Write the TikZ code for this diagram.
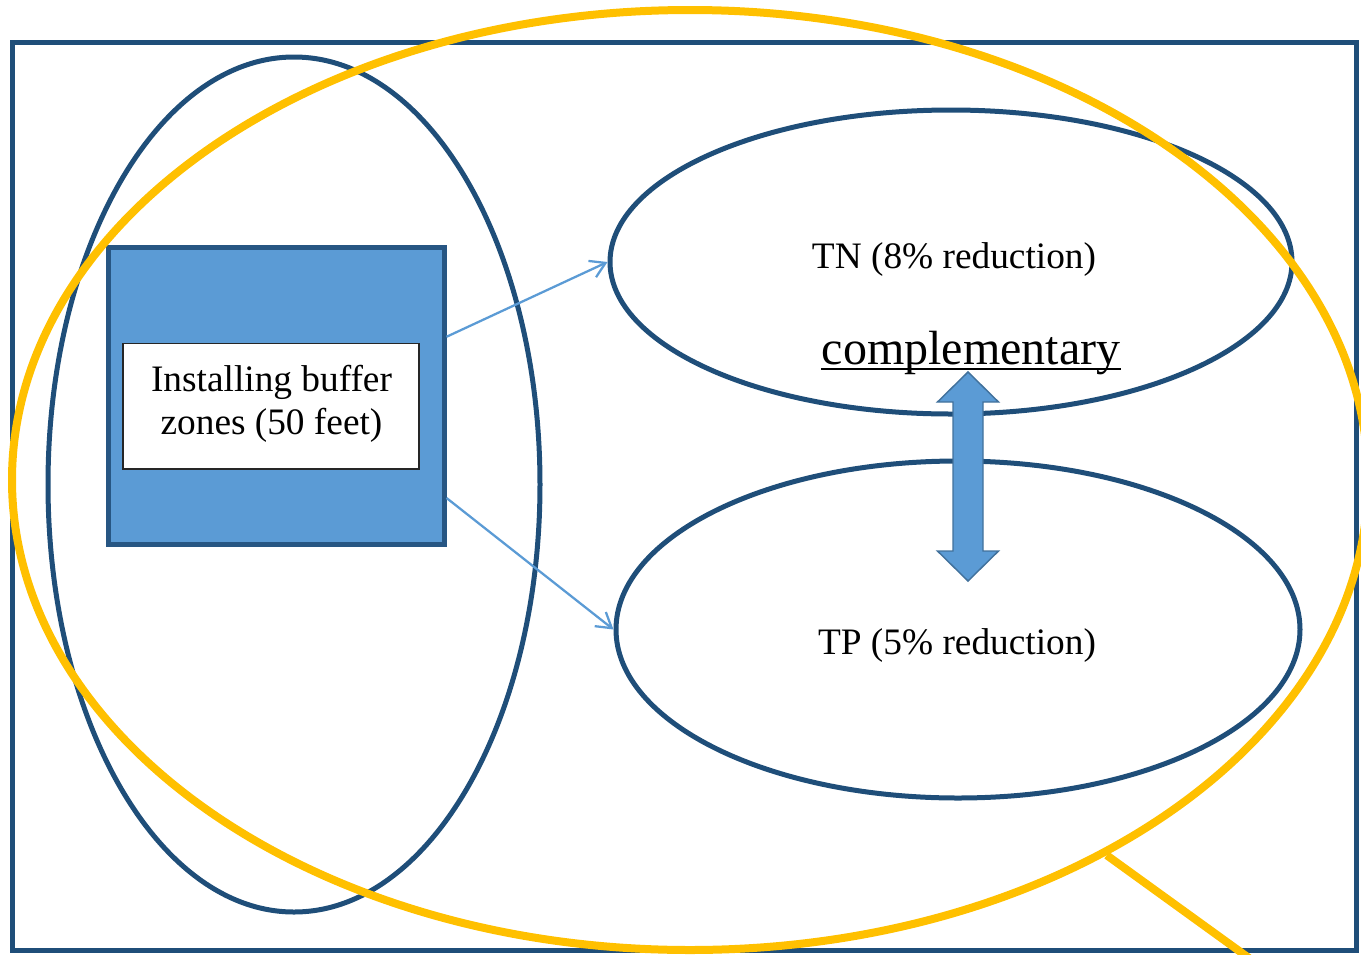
\documentclass[tikz,border=0pt]{standalone}
\usepackage{fontspec}
\setmainfont{Liberation Serif}
\usetikzlibrary{shapes.geometric,arrows.meta}
\definecolor{dblue}{HTML}{1F4E79}
\definecolor{lblue}{HTML}{5B9BD5}
\definecolor{aedge}{HTML}{41719C}
\definecolor{gold}{HTML}{FFC000}
\definecolor{bedge}{HTML}{275683}
\begin{document}
\begin{tikzpicture}[x=0.75pt,y=-0.75pt,
  frame/.style={draw=dblue,line width=3.75pt},
  oval/.style={ellipse,draw=dblue,line width=3.75pt,inner sep=0pt},
  bigoval/.style={ellipse,draw=gold,line width=6pt,inner sep=0pt},
  bluebox/.style={rectangle,draw=bedge,fill=lblue,line width=3.75pt,inner sep=0pt},
  whitebox/.style={rectangle,draw=black!85,fill=white,line width=0.9pt,inner sep=0pt},
  lbl/.style={inner sep=0pt,font=\fontsize{28}{32.5}\selectfont},
  conn/.style={draw=lblue,line width=1.7pt,-{Straight Barb[length=11pt,width=13.5pt]}},
  dbl/.style={fill=lblue,draw=aedge,line width=1.1pt,line join=miter}
]
\useasboundingbox (0,0) rectangle (1361,954);
\clip (0,0) rectangle (1361,954);
\draw[frame] (12,42.5) rectangle (1356,950.5);
\node[oval,minimum width=369pt,minimum height=641.25pt] (left) at (294,484.5) {};
\node[bluebox,minimum width=252pt,minimum height=222.75pt] (blue) at (276,395.5) {};
\node[whitebox,minimum width=222pt,minimum height=94.1pt] (white) at (271,406.25) {};
\node[oval,minimum width=511.5pt,minimum height=228pt] (tn) at (951,262) {};
\node[oval,minimum width=513pt,minimum height=252.75pt] (tp) at (958,629.5) {};
\draw[conn] (blue.19.8) -- (tn.west);
\draw[conn] (blue.-31.4) -- (tp.west);
\draw[dbl] (968,372) -- (998.5,402) -- (983,402) -- (983,551) -- (998.5,551) -- (968,581)
  -- (937.5,551) -- (953,551) -- (953,402) -- (937.5,402) -- cycle;
\node[bigoval,minimum width=1017pt,minimum height=705pt] (callout) at (690,480) {};
\coordinate (tailend) at (1307,1000);
\draw[gold,line width=6pt] (callout.-42.7) -- (tailend);
\node[lbl,align=center] (bt) at (271.5,404) {Installing buffer\\zones (50 feet)};
\node[lbl,anchor=base] (tnt) at (954,268.5) {TN (8\% reduction)};
\node[lbl,anchor=base] (tpt) at (957,654) {TP (5\% reduction)};
\node[inner sep=0pt,font=\fontsize{36}{40}\selectfont,anchor=base] (comp) at (971,364) {complementary};
\draw[line width=1.5pt] ([yshift=-3.9pt]comp.base west) -- ([yshift=-3.9pt]comp.base east);
\end{tikzpicture}
\end{document}
